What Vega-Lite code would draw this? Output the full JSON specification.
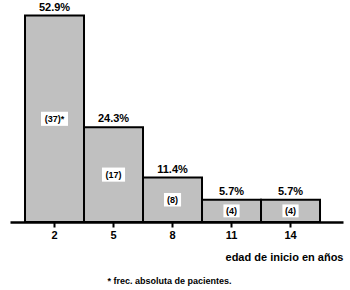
{
  "$schema": "https://vega.github.io/schema/vega-lite/v6.json",
  "width": 333,
  "height": 222,
  "autosize": "none",
  "padding": {"left": 10, "top": 0, "right": 7, "bottom": 68},
  "background": "white",
  "config": {"view": {"stroke": null}, "font": "Liberation Sans"},
  "title": {"text": "* frec. absoluta de pacientes.", "orient": "bottom", "anchor": "middle", "dx": -7, "offset": 15, "fontSize": 9, "fontWeight": "bold", "font": "Liberation Sans", "color": "black"},
  "data": {"values": [
    {"edad": 2, "prop": 0.529, "frec": "(37)*"},
    {"edad": 5, "prop": 0.243, "frec": "(17)"},
    {"edad": 8, "prop": 0.114, "frec": "(8)"},
    {"edad": 11, "prop": 0.057, "frec": "(4)"},
    {"edad": 14, "prop": 0.057, "frec": "(4)"}
  ]},
  "encoding": {
    "x": {
      "field": "edad", "type": "ordinal",
      "scale": {"paddingInner": 0, "paddingOuter": 0.322, "align": 0.395},
      "axis": {
        "title": "edad de inicio en años", "titleAnchor": "end", "titleAlign": "right",
        "titleFontSize": 11, "titleFontWeight": "bold", "titleColor": "black", "titlePadding": 11,
        "labelAngle": 0, "labelFontSize": 11, "labelFontWeight": "bold", "labelColor": "black", "labelPadding": 2,
        "domainColor": "black", "domainWidth": 2.5, "tickColor": "black", "tickWidth": 2, "tickSize": 5, "grid": false
      }
    }
  },
  "layer": [
    {
      "mark": {"type": "bar", "fill": "#c0c0c0", "stroke": "black", "strokeWidth": 2},
      "encoding": {"y": {"field": "prop", "type": "quantitative", "scale": {"domain": [0, 0.569], "nice": false}, "axis": null}}
    },
    {
      "mark": {"type": "text", "baseline": "bottom", "dy": -3, "fontSize": 11, "fontWeight": "bold", "color": "black"},
      "encoding": {
        "y": {"field": "prop", "type": "quantitative", "scale": {"domain": [0, 0.569], "nice": false}, "axis": null},
        "text": {"field": "prop", "type": "quantitative", "format": ".1%"}
      }
    },
    {
      "mark": {"type": "point", "filled": true, "fill": "white", "opacity": 1, "strokeWidth": 0, "size": 900},
      "encoding": {
        "y": {"field": "prop", "type": "quantitative", "scale": {"domain": [0, 1.138], "nice": false}, "axis": null},
        "shape": {"field": "frec", "type": "nominal", "legend": null,
          "scale": {"domain": ["(37)*", "(17)", "(8)", "(4)"],
            "range": ["M-0.9,-0.47H0.9V0.47H-0.9Z", "M-0.77,-0.47H0.77V0.47H-0.77Z", "M-0.57,-0.45H0.57V0.45H-0.57Z", "M-0.54,-0.43H0.54V0.43H-0.54Z"]}}
      }
    },
    {
      "mark": {"type": "text", "baseline": "middle", "fontSize": 9, "fontWeight": "bold", "color": "black"},
      "encoding": {
        "y": {"field": "prop", "type": "quantitative", "scale": {"domain": [0, 1.138], "nice": false}, "axis": null},
        "text": {"field": "frec", "type": "nominal"}
      }
    }
  ],
  "resolve": {"scale": {"y": "independent"}}
}
